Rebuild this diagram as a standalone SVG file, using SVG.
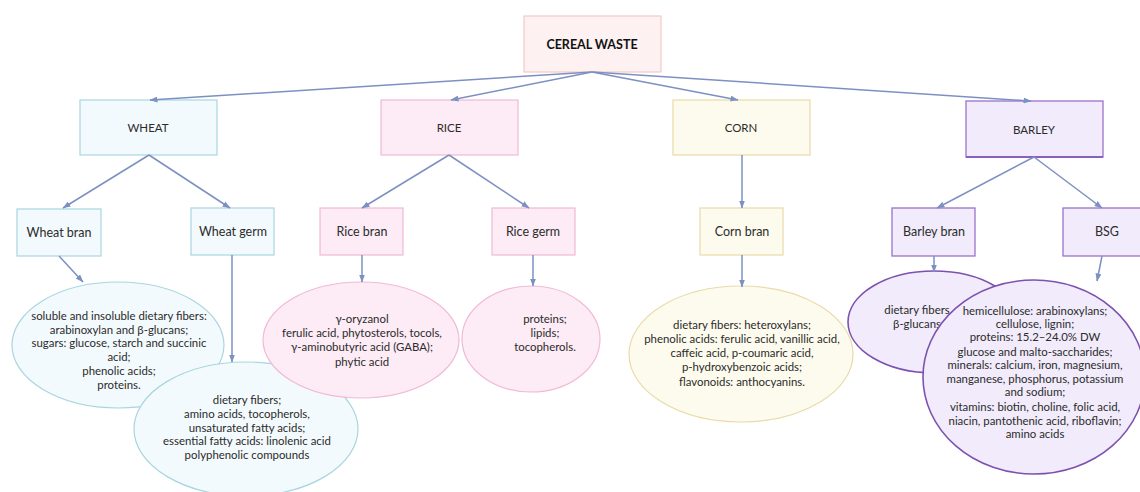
<svg xmlns="http://www.w3.org/2000/svg" width="1140" height="492" viewBox="0 0 1140 492">
<defs>
<marker id="ah" markerWidth="8" markerHeight="6" refX="7.5" refY="3" orient="auto" markerUnits="userSpaceOnUse">
<path d="M0,0 L8,3 L0,6 z" fill="#7d90c2"/>
</marker>
<style>
text{font-family:Lato,"Open Sans","Liberation Sans",sans-serif;fill:#2b2b2b;text-anchor:middle}
.t{font-size:12.5px}
.h{font-size:11.5px}
.s{font-size:11.4px}
.root{fill:#fdf1f1;stroke:#f6c9c9;stroke-width:1.2}
.wh{fill:#f3fafd;stroke:#a8d6e0;stroke-width:1.2}
.ri{fill:#fdebf6;stroke:#f1b9d6;stroke-width:1.2}
.co{fill:#fdfbee;stroke:#e9dba8;stroke-width:1.2}
.ba{fill:#f1ebfb;stroke:#9c72ca;stroke-width:1.3}
.bae{fill:#f1ebfb;stroke:#7c52ae;stroke-width:1.6}
.c line{stroke:#7d90c2;stroke-width:1.5;marker-end:url(#ah)}
</style>
</defs>
<rect width="1140" height="492" fill="#ffffff"/>

<g id="cereal-waste"><rect class="root" x="524" y="16" width="137" height="56"/><text x="592" y="48.5" style="font-size:12.5px;font-weight:bold;fill:#111">CEREAL WASTE</text></g>

<g id="wheat"><rect class="wh" x="80" y="100" width="137" height="55"/><text class="h" x="148" y="132">WHEAT</text></g>
<g id="rice"><rect class="ri" x="381" y="100" width="137" height="55"/><text class="h" x="449" y="132">RICE</text></g>
<g id="corn"><rect class="co" x="673" y="100" width="137" height="55"/><text class="h" x="741" y="132">CORN</text></g>
<g id="barley"><rect class="ba" x="966" y="101" width="137" height="56"/><line x1="966" y1="157" x2="1103" y2="157" stroke="#8a5fbf" stroke-width="2"/><text class="h" x="1034" y="134">BARLEY</text></g>

<g id="wheat-bran"><rect class="wh" x="17" y="209" width="84" height="47"/><text class="t" x="59" y="237">Wheat bran</text></g>
<g id="wheat-germ"><rect class="wh" x="191" y="208" width="83" height="47"/><text class="t" x="233" y="236">Wheat germ</text></g>
<g id="rice-bran"><rect class="ri" x="320" y="208" width="83" height="47"/><text class="t" x="362" y="236">Rice bran</text></g>
<g id="rice-germ"><rect class="ri" x="492" y="208" width="83" height="47"/><text class="t" x="533" y="236">Rice germ</text></g>
<g id="corn-bran"><rect class="co" x="700" y="208" width="83" height="47"/><text class="t" x="742" y="236">Corn bran</text></g>
<g id="barley-bran"><rect class="ba" x="892" y="208" width="83" height="48"/><text class="t" x="934" y="236">Barley bran</text></g>
<g id="bsg"><rect class="ba" x="1063" y="208" width="84" height="48"/><text class="t" x="1107" y="236">BSG</text></g>

<g id="wheat-bran-content"><ellipse class="wh" cx="118" cy="345" rx="106" ry="63"/>
<text class="s" x="119"><tspan x="119" y="320">soluble and insoluble dietary fibers:</tspan><tspan x="119" y="333.5">arabinoxylan and β-glucans;</tspan><tspan x="119" y="347">sugars: glucose, starch and succinic</tspan><tspan x="119" y="361">acid;</tspan><tspan x="119" y="375">phenolic acids;</tspan><tspan x="119" y="389">proteins.</tspan></text></g>

<g id="wheat-germ-content"><ellipse class="wh" cx="246" cy="429" rx="112" ry="67"/>
<text class="s" x="247"><tspan x="247" y="404">dietary fibers;</tspan><tspan x="247" y="418">amino acids, tocopherols,</tspan><tspan x="247" y="431.5">unsaturated fatty acids;</tspan><tspan x="247" y="445">essential fatty acids: linolenic acid</tspan><tspan x="247" y="459">polyphenolic compounds</tspan></text></g>

<g id="rice-bran-content"><ellipse class="ri" cx="361" cy="340" rx="98" ry="58"/>
<text class="s" x="362"><tspan x="362" y="323">γ-oryzanol</tspan><tspan x="362" y="337">ferulic acid, phytosterols, tocols,</tspan><tspan x="362" y="351">γ-aminobutyric acid (GABA);</tspan><tspan x="362" y="366">phytic acid</tspan></text></g>

<g id="rice-germ-content"><ellipse class="ri" cx="531" cy="339" rx="69" ry="53"/>
<text class="s" x="545"><tspan x="545" y="323">proteins;</tspan><tspan x="545" y="337">lipids;</tspan><tspan x="545" y="351">tocopherols.</tspan></text></g>

<g id="corn-bran-content"><ellipse class="co" cx="741" cy="354" rx="112" ry="68"/>
<text class="s" x="742"><tspan x="742" y="329">dietary fibers: heteroxylans;</tspan><tspan x="742" y="343">phenolic acids: ferulic acid, vanillic acid,</tspan><tspan x="742" y="357">caffeic acid, p-coumaric acid,</tspan><tspan x="742" y="371">p-hydroxybenzoic acids;</tspan><tspan x="742" y="386">flavonoids: anthocyanins.</tspan></text></g>

<g id="barley-bran-content"><ellipse class="bae" cx="934" cy="322" rx="86" ry="51"/>
<text class="s" x="917"><tspan x="917" y="314">dietary fibers</tspan><tspan x="917" y="328">β-glucans</tspan></text></g>

<g id="bsg-content"><ellipse class="bae" cx="1034" cy="377" rx="111" ry="97"/>
<text class="s" x="1035"><tspan x="1035" y="315">hemicellulose: arabinoxylans;</tspan><tspan x="1035" y="328">cellulose, lignin;</tspan><tspan x="1035" y="341">proteins: 15.2–24.0% DW</tspan><tspan x="1035" y="356">glucose and malto-saccharides;</tspan><tspan x="1035" y="369">minerals: calcium, iron, magnesium,</tspan><tspan x="1035" y="383">manganese, phosphorus, potassium</tspan><tspan x="1035" y="396">and sodium;</tspan><tspan x="1035" y="411">vitamins: biotin, choline, folic acid,</tspan><tspan x="1035" y="425">niacin, pantothenic acid, riboflavin;</tspan><tspan x="1035" y="438">amino acids</tspan></text></g>

<g id="connectors" class="c">
<line x1="592" y1="72" x2="150" y2="100"/>
<line x1="592" y1="72" x2="451" y2="100"/>
<line x1="592" y1="72" x2="738" y2="100"/>
<line x1="592" y1="72" x2="1031" y2="101"/>
<line x1="149" y1="155" x2="63" y2="208"/>
<line x1="149" y1="155" x2="230" y2="208"/>
<line x1="449" y1="155" x2="362" y2="208"/>
<line x1="449" y1="155" x2="529" y2="208"/>
<line x1="742" y1="155" x2="742" y2="208"/>
<line x1="1034" y1="157" x2="937" y2="208"/>
<line x1="1034" y1="157" x2="1102" y2="208"/>
<line x1="59" y1="256" x2="83" y2="282"/>
<line x1="232" y1="255" x2="232" y2="362"/>
<line x1="362" y1="255" x2="362" y2="282"/>
<line x1="533" y1="255" x2="533" y2="286"/>
<line x1="742" y1="255" x2="742" y2="287"/>
<line x1="934" y1="256" x2="934" y2="272"/>
<line x1="1102" y1="256" x2="1097" y2="281"/>
</g>
</svg>
